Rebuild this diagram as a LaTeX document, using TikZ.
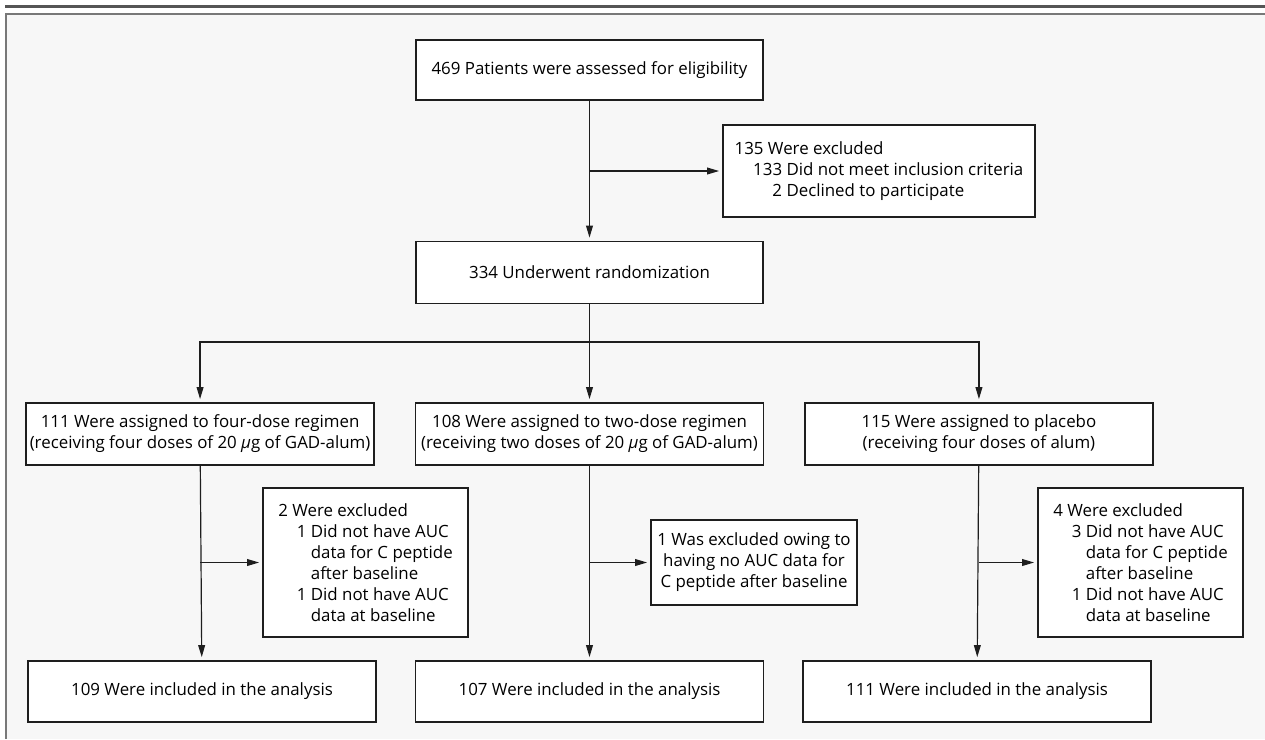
\documentclass[tikz,border=0pt]{standalone}
\usepackage{fontspec}
\setmainfont{Open Sans}
\usepackage{tikz}
\usetikzlibrary{positioning,arrows.meta,calc}
\definecolor{trazo}{RGB}{30,30,30}
\definecolor{fondo}{RGB}{247,247,247}
\definecolor{filete}{RGB}{85,85,85}
\definecolor{marco}{RGB}{120,120,120}
\newcommand{\cuerpo}{\fontsize{12}{15}\selectfont}

\begin{document}
\begin{tikzpicture}[x=0.025cm, y=-0.025cm,
    caja/.style={draw=trazo, fill=white, line width=0.95pt, inner sep=0pt,
                 minimum width=8.7cm, minimum height=1.55cm, align=center,
                 font=\cuerpo},
    excl/.style={caja, align=left, minimum width=5.125cm, minimum height=3.725cm},
    flecha/.style={-{Triangle[length=3mm,width=1.7mm]}, line width=0.85pt,
                   color=trazo, shorten >=0.8mm}]
  % fondo y filetes
  \useasboundingbox (0,0) rectangle (1265,739);
  \fill[fondo] (5,14) rectangle (1265,739);
  \draw[filete, line width=1.5pt] (5,6.5) -- (1265,6.5);
  \draw[marco, line width=1.4pt] (6,739) -- (6,14) -- (1265,14);
  % cribado
  \node[caja, minimum width=8.675cm, minimum height=1.5cm] (inicio) at (589.5,70)
    {469 Patients were assessed for eligibility};
  \node[excl, minimum width=7.8cm, minimum height=2.3cm] (e0) at (879,171)
    {135 Were excluded\\
     \hspace*{1.1em}133 Did not meet inclusion criteria\\
     \hspace*{1.1em}\phantom{13}2 Declined to participate};
  \node[caja, minimum width=8.675cm] (azar) at (589.5,272.5) {334 Underwent randomization};
  % grupos
  \node[caja] (g2) at (589.5,434)
    {108 Were assigned to two-dose regimen\\(receiving two doses of 20 \textit{μ}g of GAD-alum)};
  \node[caja, left=1cm of g2] (g1)
    {111 Were assigned to four-dose regimen\\(receiving four doses of 20 \textit{μ}g of GAD-alum)};
  \node[caja, right=1cm of g2] (g3)
    {115 Were assigned to placebo\\(receiving four doses of alum)};
  % exclusiones tras la asignacion
  \node[excl] (e1) at (365.5,562.5)
    {2 Were excluded\\
     \hspace*{1.1em}1 Did not have AUC\\
     \hspace*{1.1em}\phantom{1 }data for C peptide\\
     \hspace*{1.1em}\phantom{1 }after baseline\\
     \hspace*{1.1em}1 Did not have AUC\\
     \hspace*{1.1em}\phantom{1 }data at baseline};
  \node[caja, minimum width=5.15cm, minimum height=2.125cm] (e2) at (754,562.5)
    {1 Was excluded owing to\\having no AUC data for\\C peptide after baseline};
  \node[excl] (e3) at (1140.5,562.5)
    {4 Were excluded\\
     \hspace*{1.1em}3 Did not have AUC\\
     \hspace*{1.1em}\phantom{3 }data for C peptide\\
     \hspace*{1.1em}\phantom{3 }after baseline\\
     \hspace*{1.1em}1 Did not have AUC\\
     \hspace*{1.1em}\phantom{1 }data at baseline};
  % analisis
  \node[caja, minimum height=1.525cm] (a1) at (202,691.5) {109 Were included in the analysis};
  \node[caja, minimum height=1.525cm] (a2) at (589.5,691.5) {107 Were included in the analysis};
  \node[caja, minimum height=1.525cm] (a3) at (977,691.5) {111 Were included in the analysis};
  % conectores
  \coordinate (rama) at (589.5,342);
  \draw[flecha] (inicio) -- (azar);
  \draw[flecha] (inicio |- e0.west) -- (e0.west);
  \draw[flecha] (azar) -- (g2);
  \draw[flecha] (rama) -| (g1);
  \draw[flecha] (rama) -| (g3);
  \draw[flecha] (g1) -- (a1);
  \draw[flecha] (g2) -- (a2);
  \draw[flecha] (g3) -- (a3);
  \draw[flecha] (g1 |- e1.west) -- (e1.west);
  \draw[flecha] (g2 |- e2.west) -- (e2.west);
  \draw[flecha] (g3 |- e3.west) -- (e3.west);
\end{tikzpicture}
\end{document}
